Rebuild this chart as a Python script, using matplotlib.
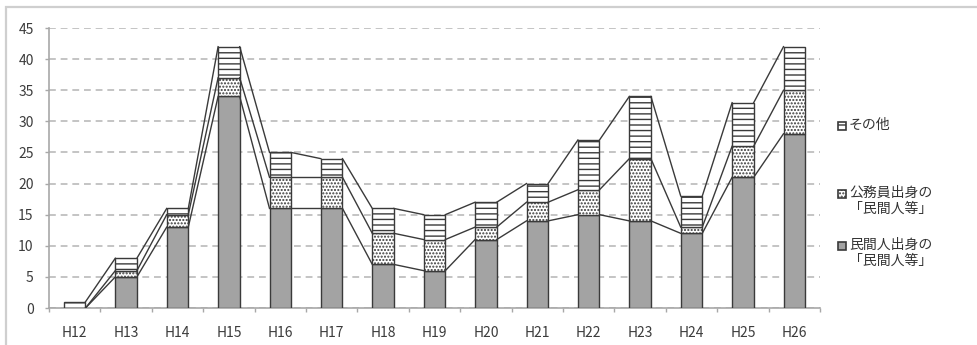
import matplotlib.pyplot as plt
import numpy as np
from matplotlib.patches import Rectangle

plt.rcParams['font.family'] = ['Noto Sans CJK JP', 'DejaVu Sans']
plt.rcParams['hatch.linewidth'] = 1.0

years = ["H12", "H13", "H14", "H15", "H16", "H17", "H18", "H19",
         "H20", "H21", "H22", "H23", "H24", "H25", "H26"]
private_origin = [0, 5, 13, 34, 16, 16, 7, 6, 11, 14, 15, 14, 12, 21, 28]
civil_servant_origin = [0, 1, 2, 3, 5, 5, 5, 5, 2, 3, 4, 10, 1, 5, 7]
others = [1, 2, 1, 5, 4, 3, 4, 4, 4, 3, 8, 10, 5, 7, 7]

series_labels = ["民間人出身の\n「民間人等」", "公務員出身の\n「民間人等」", "その他"]

W, H = 978, 345
fig = plt.figure(figsize=(W / 100, H / 100), dpi=100)

# light frame around the chart area
fig.add_artist(Rectangle((6 / W, -0.1), 1.2, 1.1 - 7 / H, transform=fig.transFigure,
                         fill=False, edgecolor='#cfcfcf', linewidth=1.6))

ax = fig.add_axes([49 / W, 37 / H, 771 / W, 280 / H])

x = np.arange(len(years))
width = 0.42
edge = '#3a3a3a'
styles = [
    dict(facecolor='#a3a3a3', hatch=None),
    dict(facecolor='white', hatch='.....'),
    dict(facecolor='white', hatch='---'),
]

data = [np.array(private_origin), np.array(civil_servant_origin), np.array(others)]
bottom = np.zeros(len(years))
levels = []
for vals, st in zip(data, styles):
    ax.bar(x, vals, width, bottom=bottom, facecolor=st['facecolor'], hatch=st['hatch'],
           edgecolor=edge, linewidth=1.0, zorder=3)
    bottom = bottom + vals
    levels.append(bottom.copy())

# series lines joining the segment tops of neighbouring bars
for lev in levels:
    for i in range(len(years) - 1):
        ax.plot([x[i] + width / 2, x[i + 1] - width / 2], [lev[i], lev[i + 1]],
                color='#3a3a3a', linewidth=1.0, zorder=4)

ax.set_xlim(-0.5, len(years) - 0.5)
ax.set_ylim(0, 45)
ax.set_yticks(np.arange(0, 46, 5))
ax.set_xticks(x)
ax.set_xticklabels(years)
ax.set_xticks(np.arange(-0.5, len(years), 1), minor=True)

ax.yaxis.grid(True, color='#c4c4c4', linewidth=1.4, linestyle=(0, (3.5, 2.5)), zorder=0)
ax.set_axisbelow(True)

for s in ['top', 'right']:
    ax.spines[s].set_visible(False)
for s in ['left', 'bottom']:
    ax.spines[s].set_color('#a8a8a8')
    ax.spines[s].set_linewidth(1.2)

ax.tick_params(axis='y', length=3, width=1, color='#a8a8a8', pad=8,
               labelsize=10, labelcolor='#3c3c3c')
ax.tick_params(axis='x', which='major', length=0, pad=13,
               labelsize=10, labelcolor='#3c3c3c')
ax.tick_params(axis='x', which='minor', length=3, width=1, color='#a8a8a8')

# legend drawn at the right, top entry first
legend_rows = [(2, 126), (1, 194), (0, 246)]
for idx, ypx in legend_rows:
    st = styles[idx]
    fig.add_artist(Rectangle((838 / W, 1 - (ypx + 4) / H), 8 / W, 8 / H,
                             transform=fig.transFigure, facecolor=st['facecolor'],
                             hatch=st['hatch'], edgecolor=edge, linewidth=1.2))
    fig.text(849 / W, 1 - (ypx - 8.5) / H, series_labels[idx],
             ha='left', va='top', fontsize=10, color='#333333', linespacing=1.2)

fig.savefig("out.png", dpi=100)
